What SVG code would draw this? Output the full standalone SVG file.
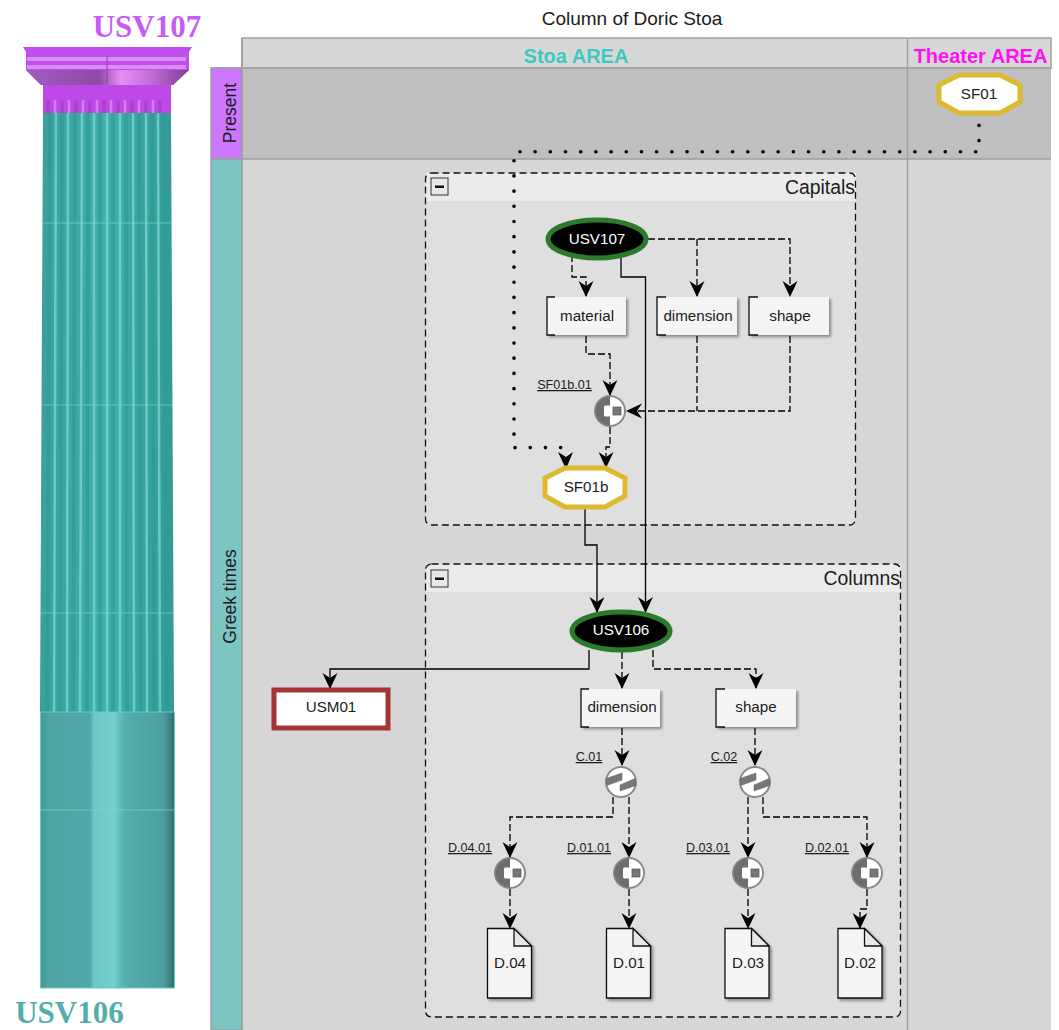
<svg xmlns="http://www.w3.org/2000/svg" width="1059" height="1030" viewBox="0 0 1059 1030">
<style>
text{font-family:"Liberation Sans",Arial,sans-serif;fill:#1c1c1c}
.lane{stroke:#a0a0a0;stroke-width:1.5}
.c{fill:none;stroke:#000;stroke-width:1.3}
.d{stroke-dasharray:7 3}
.dot{fill:none;stroke:#000;stroke-width:3.600;stroke-dasharray:0.100 15.090;stroke-linecap:round}
.n{font-size:15.200px;text-anchor:middle}
.u{font-size:12.600px;text-anchor:middle;text-decoration:underline}
.t{fill:#f5f5f5;filter:url(#sh)}
.br{fill:none;stroke:#111;stroke-width:1.3}
.grp{fill:none;stroke:#111;stroke-width:1.3;stroke-dasharray:7 4}
.hd{fill:#ebebeb}
.oct{fill:#fff;stroke:#dcb92e;stroke-width:5}
.ell{fill:#000;stroke:#2c7a2c;stroke-width:5}
.gl{stroke:#7fd2cb;stroke-width:1;opacity:.7}
.doc{fill:#f5f5f5;stroke:#111;stroke-width:1.3;filter:url(#sh)}
.ft{fill:#e8e8e8;stroke:#111;stroke-width:1.3}
</style>
<defs>
<marker id="a" markerUnits="userSpaceOnUse" markerWidth="18" markerHeight="16" refX="15" refY="7.500" orient="auto"><path d="M0 0L16 7.500L0 15L5 7.500Z" fill="#000"/></marker>
<filter id="sh" x="-20%" y="-20%" width="150%" height="150%"><feDropShadow dx="2" dy="2" stdDeviation="1.500" flood-color="#000" flood-opacity=".4"/></filter>
<linearGradient id="shaft" x1="0" x2="1"><stop offset="0" stop-color="#3aa09c"/><stop offset=".5" stop-color="#40b0aa"/><stop offset="1" stop-color="#339a95"/></linearGradient>
<linearGradient id="base" x1="0" x2="1"><stop offset="0" stop-color="#449695"/><stop offset=".06" stop-color="#4ea3a3"/><stop offset=".37" stop-color="#52a8a8"/><stop offset=".4" stop-color="#6cc8c6"/><stop offset=".55" stop-color="#74cfcd"/><stop offset=".63" stop-color="#55adac"/><stop offset=".92" stop-color="#4d9e9e"/><stop offset="1" stop-color="#2f6f6d"/></linearGradient>
<linearGradient id="ech" x1="0" x2="1"><stop offset="0" stop-color="#a05bc0"/><stop offset=".45" stop-color="#8f4aa8"/><stop offset=".58" stop-color="#e88df5"/><stop offset=".75" stop-color="#c86fdc"/><stop offset="1" stop-color="#7d3f93"/></linearGradient>
<g id="pool"><circle r="15" fill="#fff" stroke="#8a8a8a" stroke-width="2"/><path d="M0-14.500A14.500 14.500 0 0 0 0 14.500V5.500H-5A2 2 0 0 1-6 3.500V-3.500A2 2 0 0 1-5-5.500H0Z" fill="#6e6e6e"/><rect x="3" y="-4" width="8" height="8" fill="#777" stroke="#555" stroke-width=".7"/></g>
<g id="comb"><circle r="15" fill="#fff" stroke="#8a8a8a" stroke-width="2"/><path d="M-15-3.500L1-9V-2L-14 3.500ZM15 3.500L-1 9V3L14-3.500Z" fill="#777" stroke="#666" stroke-width=".5"/></g>
</defs>

<g id="column">
<path d="M43 113L171 113L174 712L40 712Z" fill="url(#shaft)"/>
<g stroke="#2f9a95" stroke-width="3.500" opacity=".7" fill="none"><path d="M50 113L47 712M62 113L60 712M75 113L73 712M88 113L87 712M100 113L100 712M113 113L113 712M126 113L127 712M139 113L141 712M152 113L154 712M164 113L167 712"/></g>
<g stroke="#7fdcd3" stroke-width="2.500" opacity=".7" fill="none"><path d="M56 113L54 712M68 113L67 712M82 113L80 712M94 113L94 712M107 113L107 712M120 113L120 712M133 113L134 712M146 113L147 712M158 113L160 712"/></g>
<path class="gl" d="M42 223H172M41 405H173M41 613H173"/>
<rect x="40.500" y="712" width="134" height="276" fill="url(#base)" stroke="#5fcfc8" stroke-width="1"/>
<path class="gl" d="M40 810H174"/>
<path d="M43 85H171V113H43Z" fill="#bf49e8"/>
<g stroke="#9a3fb4" stroke-width="3.500" opacity=".55"><path d="M48 100V113M62 100V113M76 100V113M90 100V113M104 100V113M118 100V113M132 100V113M146 100V113M160 100V113"/></g>
<g stroke="#d98df2" stroke-width="2.500" opacity=".8"><path d="M55 100V113M69 100V113M83 100V113M97 100V113M111 100V113M125 100V113M139 100V113M153 100V113"/></g>
<path d="M23 47H192L189 52L189 70L173 85H41L26 70L26 52Z" fill="#c04fee"/>
<rect x="27" y="57" width="159" height="4" fill="#d98df2"/><rect x="27" y="65" width="159" height="4" fill="#d98df2"/>
<path d="M26 70H189L173 85H41Z" fill="url(#ech)"/>
<path d="M107 55V85" stroke="#8f3fb0" stroke-width="1"/>
</g>
<text x="147" y="37" font-size="31" font-weight="700" style="font-family:'Liberation Serif',serif;fill:#c65cf5" text-anchor="middle">USV107</text>
<text x="69.500" y="1023" font-size="31" font-weight="700" style="font-family:'Liberation Serif',serif;fill:#54adad" text-anchor="middle">USV106</text>

<g id="swimlanes">
<text x="632" y="25" font-size="19" text-anchor="middle">Column of Doric Stoa</text>
<rect class="lane" x="242" y="38" width="809" height="30" fill="#d7d7d7"/>
<rect x="242" y="68" width="809" height="91" fill="#bfbfbf"/>
<rect x="242" y="159" width="809" height="871" fill="#d7d7d7"/>
<path class="lane" d="M242 68H1051M211 159H1051M907.500 38V1030M242 38V1030M211 68H242"/>
<rect class="lane" x="211" y="68" width="31" height="91" fill="#cb78ff"/>
<rect class="lane" x="211" y="159" width="31" height="871" fill="#7cc5c3"/>
<text x="576" y="63" font-size="20" font-weight="700" text-anchor="middle" style="fill:#3fc7c0">Stoa AREA</text>
<text x="980.500" y="63" font-size="20" font-weight="700" text-anchor="middle" style="fill:#ff10f0">Theater AREA</text>
<text transform="translate(236 113) rotate(-90)" font-size="17.500" text-anchor="middle">Present</text>
<text transform="translate(236 596.500) rotate(-90)" font-size="17.500" text-anchor="middle">Greek times</text>
</g>

<g id="group-capitals">
<rect x="425.500" y="173" width="430" height="352" rx="6" fill="#dfdfdf"/>
<rect class="hd" x="426" y="173" width="430" height="28"/>
<rect x="425.500" y="173" width="430" height="352" rx="6" class="grp"/>
<rect x="431" y="178" width="17" height="17" fill="#e8e8e8" stroke="#333"/><rect x="435" y="185.500" width="9" height="2.500" fill="#111"/>
<text x="855" y="194" font-size="19.400" text-anchor="end">Capitals</text>
</g>
<g id="group-columns">
<rect x="425.500" y="564" width="475" height="453" rx="6" fill="#dfdfdf"/>
<rect class="hd" x="426" y="564" width="475" height="28"/>
<rect x="425.500" y="564" width="475" height="453" rx="6" class="grp"/>
<rect x="431" y="570" width="17" height="17" fill="#e8e8e8" stroke="#333"/><rect x="435" y="577.500" width="9" height="2.500" fill="#111"/>
<text x="900" y="585" font-size="19.400" text-anchor="end">Columns</text>
</g>

<g id="connectors">
<path class="dot" d="M979 125.300V141"/>
<path class="dot" d="M975.700 151.700H519"/>
<path class="dot" d="M514 160.700V436"/>
<path class="dot" d="M515 447.600H561"/>
<path d="M558 452L566 469L573 452L566 457Z" fill="#000"/>
<path class="c d" d="M572 255V277H586V296" marker-end="url(#a)"/>
<path class="c d" d="M648 239H790V296" marker-end="url(#a)"/>
<path class="c d" d="M697 239V296" marker-end="url(#a)"/>
<path class="c" d="M621 257V277H645.500V612" marker-end="url(#a)"/>
<path class="c d" d="M586 336V354H610V395" marker-end="url(#a)"/>
<path class="c d" d="M697 336V411"/>
<path class="c d" d="M790 336V411H627" marker-end="url(#a)"/>
<path class="c d" d="M610 427V447H606V467" marker-end="url(#a)"/>
<path class="c" d="M585 506V545H597V612" marker-end="url(#a)"/>
<path class="c" d="M589 650V669H330V688" marker-end="url(#a)"/>
<path class="c d" d="M622 652V688" marker-end="url(#a)"/>
<path class="c d" d="M653 650V669H756V688" marker-end="url(#a)"/>
<path class="c d" d="M622 728V765" marker-end="url(#a)"/>
<path class="c d" d="M755 728V765" marker-end="url(#a)"/>
<path class="c d" d="M613 797V817H510V857" marker-end="url(#a)"/>
<path class="c d" d="M629 797V857" marker-end="url(#a)"/>
<path class="c d" d="M748 797V857" marker-end="url(#a)"/>
<path class="c d" d="M763 797V817H867V857" marker-end="url(#a)"/>
<path class="c d" d="M510 889V928" marker-end="url(#a)"/>
<path class="c d" d="M629 889V928" marker-end="url(#a)"/>
<path class="c d" d="M748 889V928" marker-end="url(#a)"/>
<path class="c d" d="M867 889V909H860V928" marker-end="url(#a)"/>
</g>

<g id="SF01"><path class="oct" d="M959 75H1000L1020 85V102L1000 113H959L939 102V85Z"/><text class="n" x="979" y="99">SF01</text></g>
<g id="USV107"><ellipse class="ell" cx="597" cy="239" rx="49" ry="19"/><text class="n" x="597" y="244" style="fill:#fff">USV107</text></g>
<g id="material"><rect class="t" x="547" y="297" width="79" height="38"/><path class="br" d="M555 297H547V335H555"/><text class="n" x="587" y="321">material</text></g>
<g id="dimension1"><rect class="t" x="657" y="297" width="80" height="38"/><path class="br" d="M666 297H657V335H666"/><text class="n" x="698" y="321">dimension</text></g>
<g id="shape1"><rect class="t" x="749" y="297" width="80" height="38"/><path class="br" d="M758 297H749V335H758"/><text class="n" x="790" y="321">shape</text></g>
<g id="SF01b.01"><use href="#pool" x="610" y="411"/><text class="u" x="564.500" y="389">SF01b.01</text></g>
<g id="SF01b"><path class="oct" d="M565 468H605L625 478V496L605 507H565L545 496V478Z"/><text class="n" x="586" y="492">SF01b</text></g>
<g id="USV106"><ellipse class="ell" cx="621" cy="631" rx="49" ry="19"/><text class="n" x="621" y="635" style="fill:#fff">USV106</text></g>
<g id="USM01"><rect x="274" y="690" width="114" height="38" fill="#fff" stroke="#a23535" stroke-width="5"/><text class="n" x="331" y="712">USM01</text></g>
<g id="dimension2"><rect class="t" x="581" y="689" width="79" height="38"/><path class="br" d="M589 689H581V727H589"/><text class="n" x="622" y="712">dimension</text></g>
<g id="shape2"><rect class="t" x="716" y="689" width="80" height="38"/><path class="br" d="M725 689H716V727H725"/><text class="n" x="756" y="712">shape</text></g>
<g id="C.01"><use href="#comb" x="621" y="782"/><text class="u" x="589" y="761">C.01</text></g>
<g id="C.02"><use href="#comb" x="755" y="782"/><text class="u" x="724" y="761">C.02</text></g>
<g id="D.04.01"><use href="#pool" x="510" y="873"/><text class="u" x="470" y="852">D.04.01</text></g>
<g id="D.01.01"><use href="#pool" x="629" y="873"/><text class="u" x="589" y="852">D.01.01</text></g>
<g id="D.03.01"><use href="#pool" x="748" y="873"/><text class="u" x="708" y="852">D.03.01</text></g>
<g id="D.02.01"><use href="#pool" x="867" y="873"/><text class="u" x="827" y="852">D.02.01</text></g>
<g id="D.04"><path class="doc" d="M487.500 928.500H514L531.500 946V998H487.500Z"/><path class="ft" d="M514 928.500V946H531.500Z"/><text class="n" x="510" y="968">D.04</text></g>
<g id="D.01"><path class="doc" d="M606.500 928.500H633L650.500 946V998H606.500Z"/><path class="ft" d="M633 928.500V946H650.500Z"/><text class="n" x="629" y="968">D.01</text></g>
<g id="D.03"><path class="doc" d="M725 928.500H751.500L769 946V998H725Z"/><path class="ft" d="M751.500 928.500V946H769Z"/><text class="n" x="748" y="968">D.03</text></g>
<g id="D.02"><path class="doc" d="M838 928.500H864.500L882 946V998H838Z"/><path class="ft" d="M864.500 928.500V946H882Z"/><text class="n" x="860" y="968">D.02</text></g>
</svg>
